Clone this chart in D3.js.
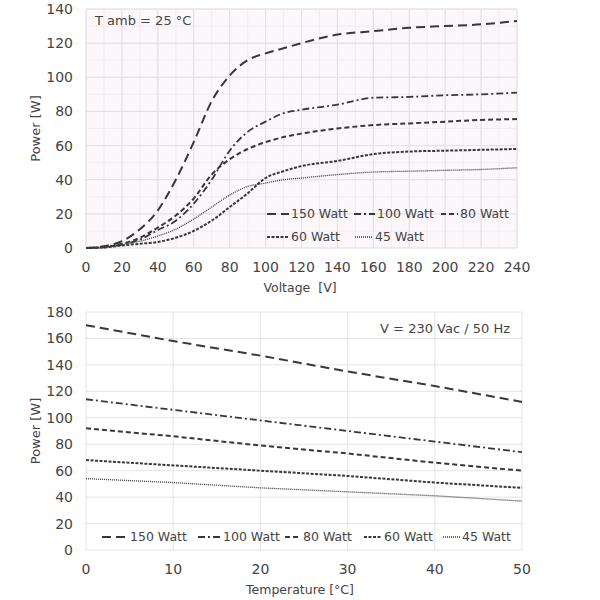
<!DOCTYPE html>
<html>
<head>
<meta charset="utf-8">
<script src="https://cdn.jsdelivr.net/npm/d3@7"></script>
<style>
  body { margin: 0; background: #fff; }
  text { font-family: "DejaVu Sans", sans-serif; fill: #444; }
</style>
</head>
<body>
<div class="canvas"></div>
<script>
// top chart: power vs voltage at 25 °C
const voltage = [0, 10, 20, 30, 40, 50, 60, 70, 80, 90, 100, 110, 120, 140, 160, 180, 200, 220, 240];
const p150v = [0, 1, 4, 11, 22, 40, 62, 86, 101, 110, 114, 117, 120, 125, 127, 129, 130, 131, 133];
const p100v = [0, 0.5, 2, 5, 10.5, 16, 26, 40, 57, 68, 74, 79, 81, 84, 88, 88.5, 89.5, 90, 91];
const p80v  = [0, 0.5, 2.5, 6, 12, 19, 29, 43, 52, 58, 62, 65, 67, 70, 72, 73, 74, 75, 75.5];
const p60v  = [0, 0.3, 1.5, 2.5, 3.5, 6, 10, 16, 24, 32, 41, 45, 48, 51, 55, 56.5, 57, 57.5, 58];
const p45v  = [0, 0.5, 2, 4, 7, 11, 17, 24, 31, 36, 38, 40, 41, 43, 44.5, 45, 45.5, 46, 47];

// bottom chart: power vs ambient temperature at 230 Vac
const temperature = [0, 10, 20, 30, 40, 50];
const p150t = [170, 158, 147, 135, 124, 112];
const p100t = [114, 106, 98, 90, 82, 74];
const p80t  = [92, 86, 79, 73, 66, 60];
const p60t  = [68, 64, 60, 56, 51, 47];
const p45t  = [54, 51, 47, 44, 41, 37];

const seriesNames = ['150 Watt', '100 Watt', '80 Watt', '60 Watt', '45 Watt'];
const dashes = ['9,5', '7,3,2,3', '5,3', '3,1.5', '1,1'];
const widths = [2, 1.8, 2, 2, 1.3];

const svg = d3.select('.canvas')
                .append('svg')
                .attr('width', 600)
                .attr('height', 600);

const drawChart = (opts) => {
    const x = d3.scaleLinear().domain(opts.xDomain).range([86, opts.right]);
    const y = d3.scaleLinear().domain(opts.yDomain).range([opts.bottom, opts.top]);
    const g = svg.append('g');

    if (opts.bg) {
        g.append('rect')
            .attr('x', x.range()[0]).attr('y', opts.top)
            .attr('width', x.range()[1] - x.range()[0])
            .attr('height', opts.bottom - opts.top)
            .attr('fill', opts.bg);
    }

    // minor grid
    if (opts.minor) {
        g.selectAll('.mx').data(d3.range(opts.xDomain[0], opts.xDomain[1] + 0.01, opts.minor[0]))
            .enter().append('line')
            .attr('x1', d => x(d)).attr('x2', d => x(d))
            .attr('y1', opts.top).attr('y2', opts.bottom)
            .attr('stroke', '#eee6ee').attr('stroke-width', 0.7);
        g.selectAll('.my').data(d3.range(opts.yDomain[0], opts.yDomain[1] + 0.01, opts.minor[1]))
            .enter().append('line')
            .attr('x1', x.range()[0]).attr('x2', x.range()[1])
            .attr('y1', d => y(d)).attr('y2', d => y(d))
            .attr('stroke', '#eee6ee').attr('stroke-width', 0.7);
    }

    // major grid
    g.selectAll('.gx').data(opts.xTicks)
        .enter().append('line')
        .attr('x1', d => x(d)).attr('x2', d => x(d))
        .attr('y1', opts.top).attr('y2', opts.bottom)
        .attr('stroke', opts.gridColor).attr('stroke-width', 1);
    g.selectAll('.gy').data(opts.yTicks)
        .enter().append('line')
        .attr('x1', x.range()[0]).attr('x2', x.range()[1])
        .attr('y1', d => y(d)).attr('y2', d => y(d))
        .attr('stroke', opts.gridColor).attr('stroke-width', 1);

    // tick labels
    g.selectAll('.tx').data(opts.xTicks)
        .enter().append('text')
        .attr('x', d => x(d)).attr('y', opts.bottom + 24)
        .attr('text-anchor', 'middle')
        .attr('font-size', 14)
        .text(d => d);
    g.selectAll('.ty').data(opts.yTicks)
        .enter().append('text')
        .attr('x', 73).attr('y', d => y(d) + 5)
        .attr('text-anchor', 'end')
        .attr('font-size', 14)
        .text(d => d);

    g.append('text')
        .attr('x', 300).attr('y', opts.bottom + 44)
        .attr('text-anchor', 'middle')
        .attr('font-size', 12.5)
        .style('white-space', 'pre')
        .text(opts.xLabel);
    g.append('text')
        .attr('transform', `translate(40, ${(opts.top + opts.bottom) / 2}) rotate(-90)`)
        .attr('text-anchor', 'middle')
        .attr('font-size', 13)
        .text('Power [W]');

    const line = d3.line()
        .x((d, i) => x(opts.xs[i]))
        .y(d => y(d))
        .curve(opts.curve);

    opts.series.forEach((s, i) => {
        g.append('path')
            .attr('d', line(s))
            .attr('fill', 'none')
            .attr('stroke', '#383838')
            .attr('stroke-width', widths[i])
            .attr('stroke-dasharray', dashes[i]);
    });

    // legend
    opts.legend.forEach((item, i) => {
        g.append('line')
            .attr('x1', item[0]).attr('x2', item[0] + item[2])
            .attr('y1', item[1] - 4).attr('y2', item[1] - 4)
            .attr('stroke', '#383838')
            .attr('stroke-width', widths[i])
            .attr('stroke-dasharray', dashes[i]);
        g.append('text')
            .attr('x', item[0] + item[2] + 2).attr('y', item[1])
            .attr('font-size', 12.5)
            .text(seriesNames[i]);
    });

    return { x, y, g };
};

const topChart = drawChart({
    xDomain: [0, 240], yDomain: [0, 140],
    right: 517, top: 9, bottom: 248,
    xTicks: d3.range(0, 241, 20), yTicks: d3.range(0, 141, 20),
    minor: [10, 10],
    bg: '#fbf7fb', gridColor: '#e6dde6',
    xLabel: 'Voltage  [V]',
    xs: voltage,
    series: [p150v, p100v, p80v, p60v, p45v],
    curve: d3.curveMonotoneX,
    legend: [[267, 218, 22], [354, 218, 21], [441, 218, 17], [267, 241, 22], [355, 241, 18]]
});
topChart.g.append('text')
    .attr('x', 95).attr('y', 25)
    .attr('font-size', 13)
    .text('T amb = 25 °C');

const bottomChart = drawChart({
    xDomain: [0, 50], yDomain: [0, 180],
    right: 522, top: 312, bottom: 550,
    xTicks: d3.range(0, 51, 10), yTicks: d3.range(0, 181, 20),
    minor: null,
    bg: null, gridColor: '#e4e4e4',
    xLabel: 'Temperature [°C]',
    xs: temperature,
    series: [p150t, p100t, p80t, p60t, p45t],
    curve: d3.curveLinear,
    legend: [[102, 541, 26], [198, 541, 23], [285, 541, 16], [364, 541, 18], [443, 541, 17]]
});
bottomChart.g.append('text')
    .attr('x', 510).attr('y', 333)
    .attr('text-anchor', 'end')
    .attr('font-size', 13)
    .text('V = 230 Vac / 50 Hz');
</script>
</body>
</html>
